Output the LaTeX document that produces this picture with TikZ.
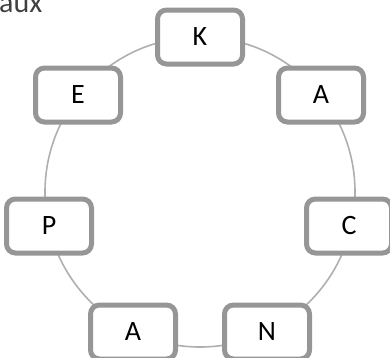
\documentclass[tikz,border=0pt]{standalone}
\usepackage{fontspec}
\setmainfont{Carlito}
\definecolor{boxgray}{RGB}{150,150,150}
\definecolor{ringgray}{RGB}{175,175,175}
\definecolor{txtgray}{RGB}{64,64,64}
\begin{document}
\begin{tikzpicture}[x=1pt,y=-1pt,
  cyc/.style={draw=boxgray, line width=5pt, fill=white, rounded corners=9pt,
    minimum width=85pt, minimum height=54pt, inner sep=0pt,
    font=\fontsize{28}{32}\selectfont, text=black},
  ring/.style={draw=ringgray, line width=1.6pt}]
\useasboundingbox (0,0) rectangle (390,357);
\coordinate (c) at (200,192);
\draw[ring] (c) circle[radius=155pt];
\node[anchor=base west, inner sep=0pt, text=txtgray, font=\fontsize{30}{34}\selectfont] (t) at (-1,12.5) {aux};
\node[cyc] (k) at (200,37) {K};
\node[cyc] (a1) at (321,95) {A};
\node[cyc] (cc) at (349,226) {C};
\node[cyc] (n) at (267,332) {N};
\node[cyc] (a2) at (133,332) {A};
\node[cyc] (p) at (49,226) {P};
\node[cyc] (e) at (78,95) {E};
\end{tikzpicture}
\end{document}
